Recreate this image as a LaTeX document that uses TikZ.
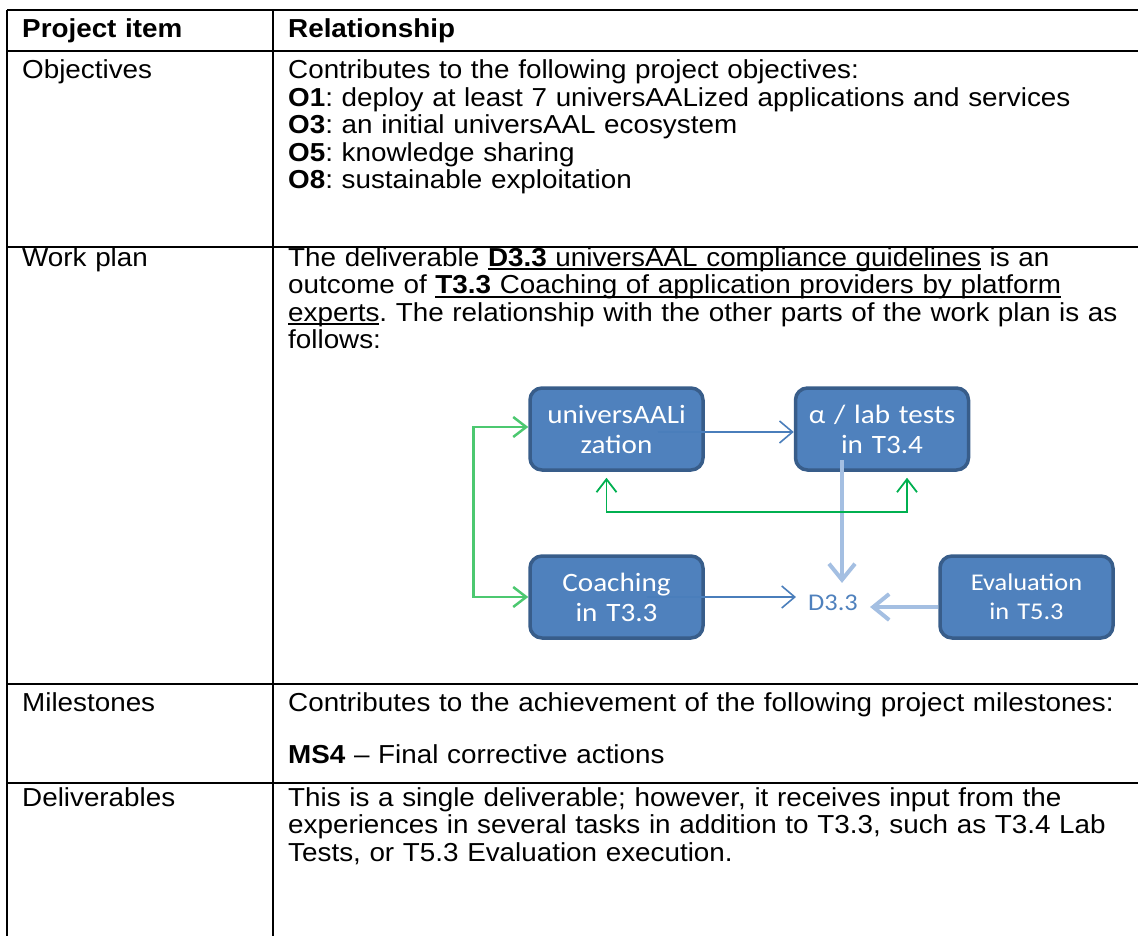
\documentclass[tikz,border=0pt]{standalone}
\usepackage{fontspec}
\setmainfont{Liberation Sans}[FakeStretch=1.07]
\newfontfamily\boxfont{Carlito}[FakeStretch=1.1]
\usetikzlibrary{arrows.meta}

\definecolor{boxfill}{HTML}{4F81BD}
\definecolor{boxedge}{HTML}{385D8A}
\definecolor{flowblue}{HTML}{4A7EBB}
\definecolor{fadeblue}{HTML}{A4BFE2}
\definecolor{linkgreen}{HTML}{00B050}
\definecolor{brackgreen}{HTML}{4CC870}

% underline at a fixed depth, like the word processor does
\newcommand{\undl}[1]{\leavevmode\setbox0=\hbox{#1}\rlap{\rule[-4pt]{\wd0}{1.8pt}}\box0\relax}

\begin{document}
\begin{tikzpicture}
[x=1pt,y=-1pt,
cell/.style ={anchor=base west, inner sep=0pt, text width=900pt, align=left,
font=\fontsize{26pt}{27.5pt}\selectfont\frenchspacing},
head/.style ={cell, font=\fontsize{26pt}{27.5pt}\selectfont\bfseries},
gridline/.style ={draw, line width=2pt},
task/.style ={rectangle, draw=boxedge, line width=3.5pt, fill=boxfill,
text width=165pt, align=center, rounded corners=12pt,
minimum width=173pt, minimum height=82pt, text=white,
font=\boxfont\fontsize{26.5pt}{30pt}\selectfont},
flow/.style ={draw=flowblue, line width=1.6pt,
-{Straight Barb[length=13pt,width=22pt]}},
fade/.style ={draw=fadeblue, line width=4pt,
-{Straight Barb[length=16pt,width=26pt]}},
link/.style ={draw=linkgreen, line width=1.8pt,
{Straight Barb[length=13pt,width=20pt]}-{Straight Barb[length=13pt,width=20pt]}},
brack/.style ={draw=brackgreen, line width=2.5pt,
{Straight Barb[length=13pt,width=20pt]}-{Straight Barb[length=13pt,width=20pt]}}]
\useasboundingbox (0,0) rectangle (1138,936);

% the table rules
\foreach \y in {10,51,247,684,783}
  \draw[gridline] (7,\y) -- (1138,\y);
\draw[gridline] (7,10) -- (7,936);
\draw[gridline] (273,10) -- (273,936);

% header row
\node [head, text width=240pt] (hitem) at (22,38) {Project item};
\node [head] (hrel) at (288,38) {Relationship};
% row 1
\node [cell, text width=240pt] (lobj) at (22,79) {Objectives};
\node [cell] (tobj) at (288,79) {Contributes to the following project objectives:\\
\textbf{O1}: deploy at least 7 universAALized applications and services\\
\textbf{O3}: an initial universAAL ecosystem\\
\textbf{O5}: knowledge sharing\\
\textbf{O8}: sustainable exploitation};
% row 2
\node [cell, text width=240pt] (lplan) at (22,266) {Work plan};
\node [cell] (tplan) at (288,266) {The deliverable \undl{\textbf{D3.3} universAAL compliance guidelines} is an\\
outcome of \undl{\textbf{T3.3} Coaching of application providers by platform}\\
\undl{experts}. The relationship with the other parts of the work plan is as\\
follows:};
% row 3
\node [cell, text width=240pt] (lmile) at (22,711) {Milestones};
\node [cell] (tmile) at (288,711) {Contributes to the achievement of the following project milestones:\\[24.5pt]
\textbf{MS4} -- Final corrective actions};
% row 4
\node [cell, text width=240pt] (ldel) at (22,806) {Deliverables};
\node [cell] (tdel) at (288,806) {This is a single deliverable; however, it receives input from the\\
experiences in several tasks in addition to T3.3, such as T3.4 Lab\\
Tests, or T5.3 Evaluation execution.};

% the work plan diagram
\node [task] (uni)   at (616.5,429) {universAALi\\zation};
\node [task] (lab)   at (882,429)   {α / lab tests\\in T3.4};
\node [task] (coach) at (616.5,597) {Coaching\\in T3.3};
\node [task, font=\boxfont\fontsize{24pt}{29pt}\selectfont] (eval) at (1026.5,597) {Evaluation\\in T5.3};
\node [text=boxfill, inner sep=12pt, font=\boxfont\fontsize{24pt}{29pt}\selectfont] (dthree) at (833,603) {D3.3};

\coordinate (labout) at ([xshift=-40pt,yshift=12pt]lab.south);
\begin{scope}[every path/.style=flow]
\path ([xshift=-47pt,yshift=-3pt]uni.east) -- ([yshift=-3pt]lab.west);
\path ([xshift=-58pt]coach.east) -- (dthree.west |- coach.east);
\end{scope}
\path [fade] (labout) -- (labout |- dthree.north);
\path [fade] ([yshift=-10pt]eval.west) -- ([yshift=-10pt]eval.west -| dthree.east);
\path [brack] ([yshift=2pt]uni.west) -- ++(-55,0) |- (coach.west);
\path [link] ([xshift=-10pt,yshift=-6pt]uni.south) -- ++(0,34) -| ([xshift=25pt,yshift=-6pt]lab.south);
\end{tikzpicture}
\end{document}
